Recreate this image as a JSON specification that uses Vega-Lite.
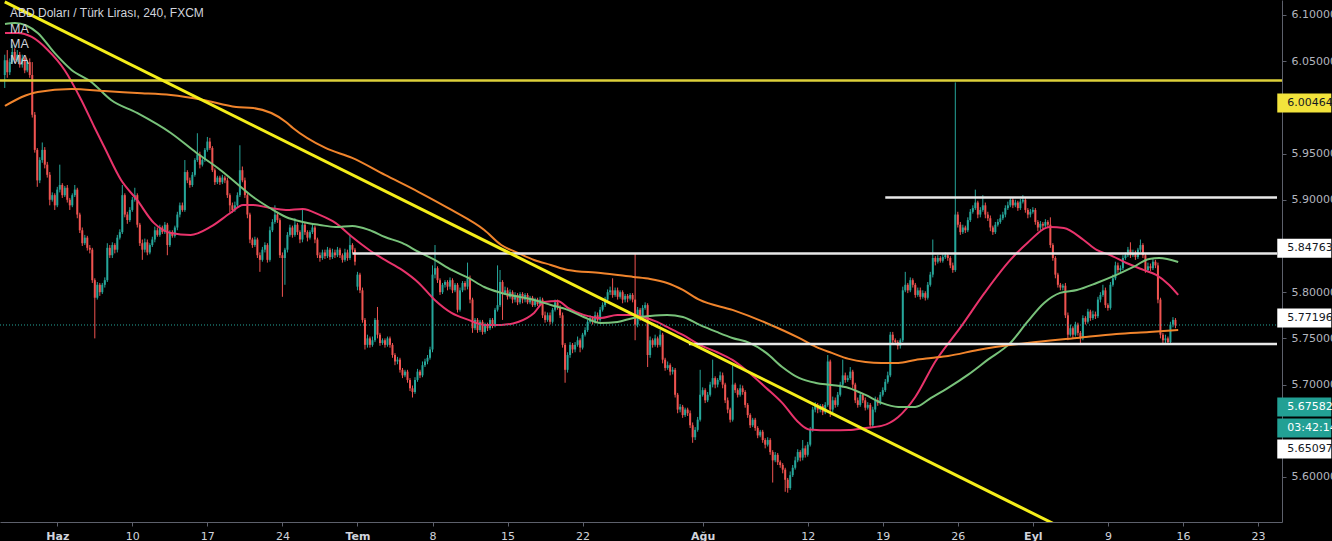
{
"$schema":"https://vega.github.io/schema/vega-lite/v6.json",
"width":1282,"height":522,
"autosize":{"type":"none"},
"padding":{"left":0,"top":0,"right":50,"bottom":19},
"background":"#000000",
"config":{"view":{"stroke":null,"fill":"#000000"},
 "axis":{"grid":false,"domainColor":"#5d606b","tickColor":"#5d606b","tickSize":4,"labelFont":"DejaVu Sans","labelFontSize":11,"labelFlush":false,"labelOverlap":false}},
"datasets":{
"candles":[
{"t":-21,"o":6.035,"h":6.057,"l":6.021,"c":6.051},
{"t":-20,"o":6.051,"h":6.062,"l":6.032,"c":6.038},
{"t":-19,"o":6.038,"h":6.053,"l":6.035,"c":6.049},
{"t":-18,"o":6.049,"h":6.068,"l":6.047,"c":6.060},
{"t":-17,"o":6.060,"h":6.064,"l":6.048,"c":6.051},
{"t":-16,"o":6.051,"h":6.062,"l":6.049,"c":6.057},
{"t":-15,"o":6.057,"h":6.060,"l":6.043,"c":6.046},
{"t":-14,"o":6.046,"h":6.057,"l":6.043,"c":6.053},
{"t":-13,"o":6.053,"h":6.056,"l":6.037,"c":6.040},
{"t":-12,"o":6.040,"h":6.051,"l":6.038,"c":6.049},
{"t":-11,"o":6.049,"h":6.053,"l":6.032,"c":6.035},
{"t":-10,"o":6.035,"h":6.049,"l":5.989,"c":5.992},
{"t":-9,"o":5.992,"h":5.995,"l":5.951,"c":5.954},
{"t":-8,"o":5.954,"h":5.956,"l":5.914,"c":5.921},
{"t":-7,"o":5.921,"h":5.946,"l":5.918,"c":5.943},
{"t":-6,"o":5.943,"h":5.962,"l":5.940,"c":5.954},
{"t":-5,"o":5.954,"h":5.957,"l":5.934,"c":5.938},
{"t":-4,"o":5.938,"h":5.941,"l":5.924,"c":5.927},
{"t":-3,"o":5.927,"h":5.930,"l":5.894,"c":5.900},
{"t":-2,"o":5.900,"h":5.908,"l":5.898,"c":5.905},
{"t":-1,"o":5.905,"h":5.907,"l":5.889,"c":5.894},
{"t":0,"o":5.894,"h":5.914,"l":5.892,"c":5.911},
{"t":1,"o":5.911,"h":5.938,"l":5.908,"c":5.916},
{"t":2,"o":5.916,"h":5.918,"l":5.902,"c":5.905},
{"t":3,"o":5.905,"h":5.915,"l":5.903,"c":5.913},
{"t":4,"o":5.913,"h":5.916,"l":5.897,"c":5.900},
{"t":5,"o":5.900,"h":5.902,"l":5.889,"c":5.894},
{"t":6,"o":5.894,"h":5.907,"l":5.892,"c":5.905},
{"t":7,"o":5.905,"h":5.916,"l":5.903,"c":5.911},
{"t":8,"o":5.911,"h":5.913,"l":5.880,"c":5.884},
{"t":9,"o":5.884,"h":5.886,"l":5.864,"c":5.867},
{"t":10,"o":5.867,"h":5.870,"l":5.850,"c":5.853},
{"t":11,"o":5.853,"h":5.862,"l":5.851,"c":5.859},
{"t":12,"o":5.859,"h":5.861,"l":5.845,"c":5.848},
{"t":13,"o":5.848,"h":5.851,"l":5.842,"c":5.846},
{"t":14,"o":5.846,"h":5.848,"l":5.810,"c":5.813},
{"t":15,"o":5.813,"h":5.815,"l":5.750,"c":5.794},
{"t":16,"o":5.794,"h":5.811,"l":5.792,"c":5.808},
{"t":17,"o":5.808,"h":5.810,"l":5.796,"c":5.800},
{"t":18,"o":5.800,"h":5.810,"l":5.798,"c":5.808},
{"t":19,"o":5.808,"h":5.816,"l":5.805,"c":5.813},
{"t":20,"o":5.813,"h":5.853,"l":5.811,"c":5.848},
{"t":21,"o":5.848,"h":5.851,"l":5.837,"c":5.840},
{"t":22,"o":5.840,"h":5.854,"l":5.837,"c":5.851},
{"t":23,"o":5.851,"h":5.853,"l":5.842,"c":5.846},
{"t":24,"o":5.846,"h":5.862,"l":5.843,"c":5.859},
{"t":25,"o":5.859,"h":5.868,"l":5.857,"c":5.865},
{"t":26,"o":5.865,"h":5.916,"l":5.863,"c":5.905},
{"t":27,"o":5.905,"h":5.907,"l":5.881,"c":5.884},
{"t":28,"o":5.884,"h":5.887,"l":5.874,"c":5.878},
{"t":29,"o":5.878,"h":5.892,"l":5.876,"c":5.889},
{"t":30,"o":5.889,"h":5.903,"l":5.887,"c":5.900},
{"t":31,"o":5.900,"h":5.913,"l":5.898,"c":5.905},
{"t":32,"o":5.905,"h":5.907,"l":5.870,"c":5.873},
{"t":33,"o":5.873,"h":5.875,"l":5.850,"c":5.853},
{"t":34,"o":5.853,"h":5.857,"l":5.835,"c":5.846},
{"t":35,"o":5.846,"h":5.858,"l":5.843,"c":5.854},
{"t":36,"o":5.854,"h":5.857,"l":5.840,"c":5.843},
{"t":37,"o":5.843,"h":5.853,"l":5.841,"c":5.851},
{"t":38,"o":5.851,"h":5.860,"l":5.849,"c":5.857},
{"t":39,"o":5.857,"h":5.871,"l":5.854,"c":5.867},
{"t":40,"o":5.867,"h":5.870,"l":5.860,"c":5.862},
{"t":41,"o":5.862,"h":5.873,"l":5.860,"c":5.870},
{"t":42,"o":5.870,"h":5.872,"l":5.863,"c":5.865},
{"t":43,"o":5.865,"h":5.876,"l":5.863,"c":5.873},
{"t":44,"o":5.873,"h":5.875,"l":5.840,"c":5.851},
{"t":45,"o":5.851,"h":5.867,"l":5.849,"c":5.865},
{"t":46,"o":5.865,"h":5.867,"l":5.859,"c":5.861},
{"t":47,"o":5.861,"h":5.872,"l":5.859,"c":5.870},
{"t":48,"o":5.870,"h":5.887,"l":5.867,"c":5.884},
{"t":49,"o":5.884,"h":5.897,"l":5.881,"c":5.894},
{"t":50,"o":5.894,"h":5.897,"l":5.887,"c":5.889},
{"t":51,"o":5.889,"h":5.943,"l":5.887,"c":5.930},
{"t":52,"o":5.930,"h":5.932,"l":5.918,"c":5.921},
{"t":53,"o":5.921,"h":5.924,"l":5.913,"c":5.916},
{"t":54,"o":5.916,"h":5.930,"l":5.914,"c":5.927},
{"t":55,"o":5.927,"h":5.945,"l":5.925,"c":5.943},
{"t":56,"o":5.943,"h":5.972,"l":5.941,"c":5.949},
{"t":57,"o":5.949,"h":5.952,"l":5.934,"c":5.938},
{"t":58,"o":5.938,"h":5.945,"l":5.936,"c":5.943},
{"t":59,"o":5.943,"h":5.956,"l":5.941,"c":5.954},
{"t":60,"o":5.954,"h":5.968,"l":5.952,"c":5.963},
{"t":61,"o":5.963,"h":5.967,"l":5.954,"c":5.956},
{"t":62,"o":5.956,"h":5.958,"l":5.930,"c":5.932},
{"t":63,"o":5.932,"h":5.934,"l":5.916,"c":5.919},
{"t":64,"o":5.919,"h":5.926,"l":5.917,"c":5.924},
{"t":65,"o":5.924,"h":5.926,"l":5.916,"c":5.919},
{"t":66,"o":5.919,"h":5.927,"l":5.917,"c":5.924},
{"t":67,"o":5.924,"h":5.926,"l":5.918,"c":5.921},
{"t":68,"o":5.921,"h":5.924,"l":5.902,"c":5.905},
{"t":69,"o":5.905,"h":5.907,"l":5.886,"c":5.894},
{"t":70,"o":5.894,"h":5.897,"l":5.886,"c":5.889},
{"t":71,"o":5.889,"h":5.898,"l":5.887,"c":5.894},
{"t":72,"o":5.894,"h":5.908,"l":5.892,"c":5.905},
{"t":73,"o":5.905,"h":5.959,"l":5.903,"c":5.932},
{"t":74,"o":5.932,"h":5.936,"l":5.919,"c":5.921},
{"t":75,"o":5.921,"h":5.924,"l":5.902,"c":5.905},
{"t":76,"o":5.905,"h":5.907,"l":5.880,"c":5.884},
{"t":77,"o":5.884,"h":5.886,"l":5.853,"c":5.857},
{"t":78,"o":5.857,"h":5.859,"l":5.848,"c":5.851},
{"t":79,"o":5.851,"h":5.860,"l":5.849,"c":5.857},
{"t":80,"o":5.857,"h":5.859,"l":5.837,"c":5.840},
{"t":81,"o":5.840,"h":5.843,"l":5.822,"c":5.835},
{"t":82,"o":5.835,"h":5.849,"l":5.833,"c":5.846},
{"t":83,"o":5.846,"h":5.854,"l":5.843,"c":5.851},
{"t":84,"o":5.851,"h":5.853,"l":5.832,"c":5.835},
{"t":85,"o":5.835,"h":5.871,"l":5.833,"c":5.867},
{"t":86,"o":5.867,"h":5.879,"l":5.865,"c":5.876},
{"t":87,"o":5.876,"h":5.894,"l":5.874,"c":5.884},
{"t":88,"o":5.884,"h":5.887,"l":5.875,"c":5.878},
{"t":89,"o":5.878,"h":5.880,"l":5.837,"c":5.840},
{"t":90,"o":5.840,"h":5.843,"l":5.795,"c":5.837},
{"t":91,"o":5.837,"h":5.848,"l":5.808,"c":5.846},
{"t":92,"o":5.846,"h":5.865,"l":5.843,"c":5.862},
{"t":93,"o":5.862,"h":5.873,"l":5.860,"c":5.870},
{"t":94,"o":5.870,"h":5.872,"l":5.859,"c":5.862},
{"t":95,"o":5.862,"h":5.880,"l":5.860,"c":5.873},
{"t":96,"o":5.873,"h":5.875,"l":5.862,"c":5.865},
{"t":97,"o":5.865,"h":5.867,"l":5.853,"c":5.857},
{"t":98,"o":5.857,"h":5.889,"l":5.854,"c":5.873},
{"t":99,"o":5.873,"h":5.875,"l":5.862,"c":5.865},
{"t":100,"o":5.865,"h":5.867,"l":5.855,"c":5.859},
{"t":101,"o":5.859,"h":5.867,"l":5.857,"c":5.865},
{"t":102,"o":5.865,"h":5.873,"l":5.863,"c":5.870},
{"t":103,"o":5.870,"h":5.872,"l":5.853,"c":5.857},
{"t":104,"o":5.857,"h":5.859,"l":5.837,"c":5.840},
{"t":105,"o":5.840,"h":5.843,"l":5.833,"c":5.837},
{"t":106,"o":5.837,"h":5.846,"l":5.835,"c":5.843},
{"t":107,"o":5.843,"h":5.846,"l":5.836,"c":5.839},
{"t":108,"o":5.839,"h":5.849,"l":5.837,"c":5.846},
{"t":109,"o":5.846,"h":5.848,"l":5.835,"c":5.838},
{"t":110,"o":5.838,"h":5.847,"l":5.836,"c":5.843},
{"t":111,"o":5.843,"h":5.846,"l":5.837,"c":5.840},
{"t":112,"o":5.840,"h":5.849,"l":5.838,"c":5.846},
{"t":113,"o":5.846,"h":5.848,"l":5.837,"c":5.840},
{"t":114,"o":5.840,"h":5.842,"l":5.832,"c":5.835},
{"t":115,"o":5.835,"h":5.847,"l":5.833,"c":5.843},
{"t":116,"o":5.843,"h":5.846,"l":5.834,"c":5.837},
{"t":117,"o":5.837,"h":5.862,"l":5.835,"c":5.851},
{"t":118,"o":5.851,"h":5.853,"l":5.842,"c":5.846},
{"t":119,"o":5.846,"h":5.848,"l":5.829,"c":5.833},
{"t":120,"o":5.806,"h":5.822,"l":5.802,"c":5.819},
{"t":121,"o":5.819,"h":5.821,"l":5.799,"c":5.802},
{"t":122,"o":5.802,"h":5.805,"l":5.767,"c":5.770},
{"t":123,"o":5.770,"h":5.772,"l":5.738,"c":5.743},
{"t":124,"o":5.743,"h":5.754,"l":5.740,"c":5.750},
{"t":125,"o":5.750,"h":5.752,"l":5.740,"c":5.743},
{"t":126,"o":5.743,"h":5.752,"l":5.741,"c":5.748},
{"t":127,"o":5.748,"h":5.772,"l":5.746,"c":5.770},
{"t":128,"o":5.770,"h":5.784,"l":5.750,"c":5.754},
{"t":129,"o":5.754,"h":5.756,"l":5.742,"c":5.745},
{"t":130,"o":5.745,"h":5.750,"l":5.743,"c":5.748},
{"t":131,"o":5.748,"h":5.750,"l":5.740,"c":5.743},
{"t":132,"o":5.743,"h":5.752,"l":5.741,"c":5.750},
{"t":133,"o":5.750,"h":5.752,"l":5.740,"c":5.743},
{"t":134,"o":5.743,"h":5.745,"l":5.729,"c":5.732},
{"t":135,"o":5.732,"h":5.734,"l":5.721,"c":5.725},
{"t":136,"o":5.725,"h":5.730,"l":5.722,"c":5.727},
{"t":137,"o":5.727,"h":5.729,"l":5.713,"c":5.716},
{"t":138,"o":5.716,"h":5.718,"l":5.707,"c":5.710},
{"t":139,"o":5.710,"h":5.716,"l":5.708,"c":5.714},
{"t":140,"o":5.714,"h":5.716,"l":5.702,"c":5.705},
{"t":141,"o":5.705,"h":5.707,"l":5.693,"c":5.696},
{"t":142,"o":5.696,"h":5.699,"l":5.686,"c":5.692},
{"t":143,"o":5.692,"h":5.708,"l":5.690,"c":5.705},
{"t":144,"o":5.705,"h":5.717,"l":5.703,"c":5.714},
{"t":145,"o":5.714,"h":5.716,"l":5.707,"c":5.710},
{"t":146,"o":5.710,"h":5.725,"l":5.708,"c":5.721},
{"t":147,"o":5.721,"h":5.728,"l":5.719,"c":5.725},
{"t":148,"o":5.725,"h":5.732,"l":5.722,"c":5.729},
{"t":149,"o":5.729,"h":5.741,"l":5.727,"c":5.738},
{"t":150,"o":5.738,"h":5.829,"l":5.735,"c":5.819},
{"t":151,"o":5.819,"h":5.851,"l":5.815,"c":5.826},
{"t":152,"o":5.826,"h":5.828,"l":5.810,"c":5.813},
{"t":153,"o":5.813,"h":5.815,"l":5.797,"c":5.800},
{"t":154,"o":5.800,"h":5.810,"l":5.798,"c":5.808},
{"t":155,"o":5.808,"h":5.813,"l":5.805,"c":5.811},
{"t":156,"o":5.811,"h":5.813,"l":5.802,"c":5.806},
{"t":157,"o":5.806,"h":5.816,"l":5.803,"c":5.813},
{"t":158,"o":5.813,"h":5.815,"l":5.799,"c":5.802},
{"t":159,"o":5.802,"h":5.810,"l":5.800,"c":5.808},
{"t":160,"o":5.808,"h":5.810,"l":5.778,"c":5.781},
{"t":161,"o":5.781,"h":5.805,"l":5.779,"c":5.802},
{"t":162,"o":5.802,"h":5.812,"l":5.800,"c":5.810},
{"t":163,"o":5.810,"h":5.812,"l":5.802,"c":5.806},
{"t":164,"o":5.806,"h":5.832,"l":5.803,"c":5.815},
{"t":165,"o":5.815,"h":5.818,"l":5.788,"c":5.792},
{"t":166,"o":5.792,"h":5.794,"l":5.756,"c":5.761},
{"t":167,"o":5.761,"h":5.772,"l":5.759,"c":5.770},
{"t":168,"o":5.770,"h":5.772,"l":5.756,"c":5.759},
{"t":169,"o":5.759,"h":5.770,"l":5.757,"c":5.768},
{"t":170,"o":5.768,"h":5.770,"l":5.754,"c":5.757},
{"t":171,"o":5.757,"h":5.767,"l":5.755,"c":5.765},
{"t":172,"o":5.765,"h":5.767,"l":5.758,"c":5.761},
{"t":173,"o":5.761,"h":5.772,"l":5.759,"c":5.770},
{"t":174,"o":5.770,"h":5.772,"l":5.761,"c":5.765},
{"t":175,"o":5.765,"h":5.783,"l":5.762,"c":5.781},
{"t":176,"o":5.781,"h":5.829,"l":5.779,"c":5.786},
{"t":177,"o":5.786,"h":5.824,"l":5.784,"c":5.811},
{"t":178,"o":5.811,"h":5.813,"l":5.770,"c":5.799},
{"t":179,"o":5.799,"h":5.806,"l":5.797,"c":5.802},
{"t":180,"o":5.802,"h":5.805,"l":5.792,"c":5.795},
{"t":181,"o":5.795,"h":5.803,"l":5.793,"c":5.800},
{"t":182,"o":5.800,"h":5.802,"l":5.788,"c":5.792},
{"t":183,"o":5.792,"h":5.800,"l":5.789,"c":5.797},
{"t":184,"o":5.797,"h":5.799,"l":5.786,"c":5.789},
{"t":185,"o":5.789,"h":5.800,"l":5.787,"c":5.798},
{"t":186,"o":5.798,"h":5.800,"l":5.788,"c":5.792},
{"t":187,"o":5.792,"h":5.799,"l":5.789,"c":5.797},
{"t":188,"o":5.797,"h":5.799,"l":5.787,"c":5.789},
{"t":189,"o":5.789,"h":5.796,"l":5.787,"c":5.794},
{"t":190,"o":5.794,"h":5.796,"l":5.784,"c":5.786},
{"t":191,"o":5.786,"h":5.794,"l":5.784,"c":5.792},
{"t":192,"o":5.792,"h":5.794,"l":5.785,"c":5.787},
{"t":193,"o":5.787,"h":5.795,"l":5.785,"c":5.792},
{"t":194,"o":5.792,"h":5.794,"l":5.772,"c":5.775},
{"t":195,"o":5.775,"h":5.779,"l":5.767,"c":5.770},
{"t":196,"o":5.770,"h":5.778,"l":5.768,"c":5.775},
{"t":197,"o":5.775,"h":5.778,"l":5.765,"c":5.768},
{"t":198,"o":5.768,"h":5.783,"l":5.766,"c":5.781},
{"t":199,"o":5.781,"h":5.792,"l":5.779,"c":5.789},
{"t":200,"o":5.789,"h":5.792,"l":5.781,"c":5.784},
{"t":201,"o":5.784,"h":5.786,"l":5.772,"c":5.775},
{"t":202,"o":5.775,"h":5.778,"l":5.740,"c":5.743},
{"t":203,"o":5.743,"h":5.745,"l":5.702,"c":5.716},
{"t":204,"o":5.716,"h":5.735,"l":5.713,"c":5.732},
{"t":205,"o":5.732,"h":5.746,"l":5.729,"c":5.743},
{"t":206,"o":5.743,"h":5.745,"l":5.734,"c":5.738},
{"t":207,"o":5.738,"h":5.746,"l":5.735,"c":5.743},
{"t":208,"o":5.743,"h":5.752,"l":5.741,"c":5.748},
{"t":209,"o":5.748,"h":5.750,"l":5.735,"c":5.740},
{"t":210,"o":5.740,"h":5.756,"l":5.738,"c":5.754},
{"t":211,"o":5.754,"h":5.762,"l":5.752,"c":5.759},
{"t":212,"o":5.759,"h":5.770,"l":5.757,"c":5.768},
{"t":213,"o":5.768,"h":5.775,"l":5.766,"c":5.772},
{"t":214,"o":5.772,"h":5.774,"l":5.765,"c":5.768},
{"t":215,"o":5.768,"h":5.779,"l":5.766,"c":5.775},
{"t":216,"o":5.775,"h":5.778,"l":5.767,"c":5.770},
{"t":217,"o":5.770,"h":5.784,"l":5.768,"c":5.781},
{"t":218,"o":5.781,"h":5.789,"l":5.779,"c":5.786},
{"t":219,"o":5.786,"h":5.795,"l":5.784,"c":5.792},
{"t":220,"o":5.792,"h":5.803,"l":5.789,"c":5.800},
{"t":221,"o":5.800,"h":5.806,"l":5.797,"c":5.802},
{"t":222,"o":5.802,"h":5.815,"l":5.794,"c":5.797},
{"t":223,"o":5.797,"h":5.805,"l":5.795,"c":5.802},
{"t":224,"o":5.802,"h":5.805,"l":5.792,"c":5.795},
{"t":225,"o":5.795,"h":5.802,"l":5.793,"c":5.800},
{"t":226,"o":5.800,"h":5.802,"l":5.788,"c":5.792},
{"t":227,"o":5.792,"h":5.798,"l":5.789,"c":5.796},
{"t":228,"o":5.796,"h":5.798,"l":5.789,"c":5.793},
{"t":229,"o":5.793,"h":5.799,"l":5.791,"c":5.797},
{"t":230,"o":5.797,"h":5.799,"l":5.789,"c":5.792},
{"t":231,"o":5.792,"h":5.842,"l":5.748,"c":5.765},
{"t":232,"o":5.765,"h":5.784,"l":5.762,"c":5.781},
{"t":233,"o":5.781,"h":5.783,"l":5.769,"c":5.772},
{"t":234,"o":5.772,"h":5.786,"l":5.770,"c":5.783},
{"t":235,"o":5.783,"h":5.789,"l":5.781,"c":5.786},
{"t":236,"o":5.786,"h":5.788,"l":5.719,"c":5.732},
{"t":237,"o":5.732,"h":5.752,"l":5.729,"c":5.748},
{"t":238,"o":5.748,"h":5.750,"l":5.740,"c":5.743},
{"t":239,"o":5.743,"h":5.754,"l":5.741,"c":5.750},
{"t":240,"o":5.750,"h":5.752,"l":5.740,"c":5.743},
{"t":241,"o":5.743,"h":5.759,"l":5.741,"c":5.754},
{"t":242,"o":5.754,"h":5.756,"l":5.723,"c":5.727},
{"t":243,"o":5.727,"h":5.729,"l":5.715,"c":5.718},
{"t":244,"o":5.718,"h":5.725,"l":5.716,"c":5.721},
{"t":245,"o":5.721,"h":5.723,"l":5.710,"c":5.714},
{"t":246,"o":5.714,"h":5.719,"l":5.711,"c":5.716},
{"t":247,"o":5.716,"h":5.718,"l":5.686,"c":5.689},
{"t":248,"o":5.689,"h":5.691,"l":5.669,"c":5.673},
{"t":249,"o":5.673,"h":5.679,"l":5.670,"c":5.676},
{"t":250,"o":5.676,"h":5.678,"l":5.664,"c":5.667},
{"t":251,"o":5.667,"h":5.675,"l":5.665,"c":5.673},
{"t":252,"o":5.673,"h":5.675,"l":5.666,"c":5.669},
{"t":253,"o":5.669,"h":5.672,"l":5.653,"c":5.656},
{"t":254,"o":5.656,"h":5.659,"l":5.637,"c":5.643},
{"t":255,"o":5.643,"h":5.654,"l":5.640,"c":5.651},
{"t":256,"o":5.651,"h":5.665,"l":5.649,"c":5.662},
{"t":257,"o":5.662,"h":5.716,"l":5.660,"c":5.689},
{"t":258,"o":5.689,"h":5.697,"l":5.687,"c":5.694},
{"t":259,"o":5.694,"h":5.696,"l":5.680,"c":5.683},
{"t":260,"o":5.683,"h":5.692,"l":5.681,"c":5.689},
{"t":261,"o":5.689,"h":5.703,"l":5.687,"c":5.700},
{"t":262,"o":5.700,"h":5.727,"l":5.697,"c":5.707},
{"t":263,"o":5.707,"h":5.709,"l":5.696,"c":5.700},
{"t":264,"o":5.700,"h":5.707,"l":5.697,"c":5.705},
{"t":265,"o":5.705,"h":5.714,"l":5.703,"c":5.710},
{"t":266,"o":5.710,"h":5.713,"l":5.696,"c":5.700},
{"t":267,"o":5.700,"h":5.702,"l":5.680,"c":5.683},
{"t":268,"o":5.683,"h":5.686,"l":5.669,"c":5.673},
{"t":269,"o":5.673,"h":5.675,"l":5.659,"c":5.662},
{"t":270,"o":5.662,"h":5.721,"l":5.660,"c":5.700},
{"t":271,"o":5.700,"h":5.702,"l":5.691,"c":5.694},
{"t":272,"o":5.694,"h":5.696,"l":5.686,"c":5.689},
{"t":273,"o":5.689,"h":5.700,"l":5.687,"c":5.696},
{"t":274,"o":5.696,"h":5.699,"l":5.689,"c":5.692},
{"t":275,"o":5.692,"h":5.694,"l":5.675,"c":5.678},
{"t":276,"o":5.678,"h":5.680,"l":5.664,"c":5.667},
{"t":277,"o":5.667,"h":5.669,"l":5.653,"c":5.656},
{"t":278,"o":5.656,"h":5.664,"l":5.654,"c":5.662},
{"t":279,"o":5.662,"h":5.664,"l":5.650,"c":5.653},
{"t":280,"o":5.653,"h":5.655,"l":5.642,"c":5.645},
{"t":281,"o":5.645,"h":5.651,"l":5.643,"c":5.649},
{"t":282,"o":5.649,"h":5.651,"l":5.637,"c":5.640},
{"t":283,"o":5.640,"h":5.642,"l":5.631,"c":5.635},
{"t":284,"o":5.635,"h":5.643,"l":5.633,"c":5.640},
{"t":285,"o":5.640,"h":5.642,"l":5.624,"c":5.627},
{"t":286,"o":5.627,"h":5.629,"l":5.594,"c":5.618},
{"t":287,"o":5.618,"h":5.627,"l":5.616,"c":5.624},
{"t":288,"o":5.624,"h":5.626,"l":5.613,"c":5.616},
{"t":289,"o":5.616,"h":5.618,"l":5.610,"c":5.613},
{"t":290,"o":5.613,"h":5.615,"l":5.604,"c":5.608},
{"t":291,"o":5.608,"h":5.610,"l":5.584,"c":5.597},
{"t":292,"o":5.597,"h":5.599,"l":5.583,"c":5.588},
{"t":293,"o":5.588,"h":5.606,"l":5.586,"c":5.602},
{"t":294,"o":5.602,"h":5.613,"l":5.600,"c":5.610},
{"t":295,"o":5.610,"h":5.622,"l":5.608,"c":5.618},
{"t":296,"o":5.618,"h":5.630,"l":5.616,"c":5.627},
{"t":297,"o":5.627,"h":5.629,"l":5.617,"c":5.621},
{"t":298,"o":5.621,"h":5.640,"l":5.618,"c":5.631},
{"t":299,"o":5.631,"h":5.634,"l":5.621,"c":5.624},
{"t":300,"o":5.624,"h":5.638,"l":5.622,"c":5.635},
{"t":301,"o":5.635,"h":5.654,"l":5.633,"c":5.651},
{"t":302,"o":5.651,"h":5.676,"l":5.649,"c":5.673},
{"t":303,"o":5.673,"h":5.681,"l":5.670,"c":5.678},
{"t":304,"o":5.678,"h":5.680,"l":5.669,"c":5.673},
{"t":305,"o":5.673,"h":5.679,"l":5.670,"c":5.677},
{"t":306,"o":5.677,"h":5.679,"l":5.667,"c":5.670},
{"t":307,"o":5.670,"h":5.681,"l":5.668,"c":5.678},
{"t":308,"o":5.678,"h":5.732,"l":5.676,"c":5.725},
{"t":309,"o":5.725,"h":5.727,"l":5.665,"c":5.673},
{"t":310,"o":5.673,"h":5.687,"l":5.670,"c":5.683},
{"t":311,"o":5.683,"h":5.686,"l":5.675,"c":5.678},
{"t":312,"o":5.678,"h":5.692,"l":5.676,"c":5.689},
{"t":313,"o":5.689,"h":5.703,"l":5.687,"c":5.700},
{"t":314,"o":5.700,"h":5.727,"l":5.697,"c":5.710},
{"t":315,"o":5.710,"h":5.713,"l":5.702,"c":5.705},
{"t":316,"o":5.705,"h":5.710,"l":5.703,"c":5.707},
{"t":317,"o":5.707,"h":5.719,"l":5.705,"c":5.714},
{"t":318,"o":5.714,"h":5.716,"l":5.696,"c":5.700},
{"t":319,"o":5.700,"h":5.702,"l":5.680,"c":5.683},
{"t":320,"o":5.683,"h":5.686,"l":5.675,"c":5.678},
{"t":321,"o":5.678,"h":5.692,"l":5.676,"c":5.689},
{"t":322,"o":5.689,"h":5.691,"l":5.680,"c":5.683},
{"t":323,"o":5.683,"h":5.686,"l":5.672,"c":5.675},
{"t":324,"o":5.675,"h":5.681,"l":5.673,"c":5.678},
{"t":325,"o":5.678,"h":5.680,"l":5.653,"c":5.656},
{"t":326,"o":5.656,"h":5.676,"l":5.654,"c":5.673},
{"t":327,"o":5.673,"h":5.687,"l":5.670,"c":5.683},
{"t":328,"o":5.683,"h":5.686,"l":5.677,"c":5.680},
{"t":329,"o":5.680,"h":5.692,"l":5.678,"c":5.689},
{"t":330,"o":5.689,"h":5.697,"l":5.687,"c":5.694},
{"t":331,"o":5.694,"h":5.706,"l":5.692,"c":5.703},
{"t":332,"o":5.703,"h":5.714,"l":5.701,"c":5.710},
{"t":333,"o":5.710,"h":5.757,"l":5.708,"c":5.754},
{"t":334,"o":5.754,"h":5.757,"l":5.745,"c":5.748},
{"t":335,"o":5.748,"h":5.750,"l":5.743,"c":5.746},
{"t":336,"o":5.746,"h":5.748,"l":5.738,"c":5.742},
{"t":337,"o":5.742,"h":5.750,"l":5.739,"c":5.748},
{"t":338,"o":5.748,"h":5.806,"l":5.746,"c":5.802},
{"t":339,"o":5.802,"h":5.822,"l":5.800,"c":5.808},
{"t":340,"o":5.808,"h":5.810,"l":5.799,"c":5.802},
{"t":341,"o":5.802,"h":5.816,"l":5.800,"c":5.813},
{"t":342,"o":5.813,"h":5.815,"l":5.805,"c":5.808},
{"t":343,"o":5.808,"h":5.810,"l":5.794,"c":5.797},
{"t":344,"o":5.797,"h":5.805,"l":5.795,"c":5.802},
{"t":345,"o":5.802,"h":5.805,"l":5.792,"c":5.795},
{"t":346,"o":5.795,"h":5.802,"l":5.793,"c":5.799},
{"t":347,"o":5.799,"h":5.801,"l":5.791,"c":5.794},
{"t":348,"o":5.794,"h":5.811,"l":5.792,"c":5.808},
{"t":349,"o":5.808,"h":5.822,"l":5.806,"c":5.819},
{"t":350,"o":5.819,"h":5.857,"l":5.816,"c":5.837},
{"t":351,"o":5.837,"h":5.839,"l":5.829,"c":5.833},
{"t":352,"o":5.833,"h":5.840,"l":5.831,"c":5.837},
{"t":353,"o":5.837,"h":5.839,"l":5.832,"c":5.834},
{"t":354,"o":5.834,"h":5.841,"l":5.832,"c":5.838},
{"t":355,"o":5.838,"h":5.843,"l":5.836,"c":5.840},
{"t":356,"o":5.840,"h":5.842,"l":5.834,"c":5.837},
{"t":357,"o":5.837,"h":5.839,"l":5.826,"c":5.829},
{"t":358,"o":5.829,"h":5.832,"l":5.821,"c":5.824},
{"t":359,"o":5.824,"h":6.027,"l":5.822,"c":5.884},
{"t":360,"o":5.884,"h":5.887,"l":5.870,"c":5.873},
{"t":361,"o":5.873,"h":5.876,"l":5.862,"c":5.865},
{"t":362,"o":5.865,"h":5.873,"l":5.863,"c":5.870},
{"t":363,"o":5.870,"h":5.872,"l":5.864,"c":5.867},
{"t":364,"o":5.867,"h":5.881,"l":5.865,"c":5.878},
{"t":365,"o":5.878,"h":5.890,"l":5.876,"c":5.887},
{"t":366,"o":5.887,"h":5.894,"l":5.885,"c":5.891},
{"t":367,"o":5.891,"h":5.911,"l":5.889,"c":5.897},
{"t":368,"o":5.897,"h":5.899,"l":5.880,"c":5.884},
{"t":369,"o":5.884,"h":5.892,"l":5.881,"c":5.889},
{"t":370,"o":5.889,"h":5.905,"l":5.887,"c":5.894},
{"t":371,"o":5.894,"h":5.897,"l":5.880,"c":5.884},
{"t":372,"o":5.884,"h":5.887,"l":5.877,"c":5.880},
{"t":373,"o":5.880,"h":5.883,"l":5.866,"c":5.870},
{"t":374,"o":5.870,"h":5.872,"l":5.862,"c":5.865},
{"t":375,"o":5.865,"h":5.876,"l":5.863,"c":5.873},
{"t":376,"o":5.873,"h":5.879,"l":5.871,"c":5.876},
{"t":377,"o":5.876,"h":5.884,"l":5.874,"c":5.880},
{"t":378,"o":5.880,"h":5.887,"l":5.878,"c":5.884},
{"t":379,"o":5.884,"h":5.894,"l":5.881,"c":5.891},
{"t":380,"o":5.891,"h":5.898,"l":5.889,"c":5.894},
{"t":381,"o":5.894,"h":5.903,"l":5.892,"c":5.900},
{"t":382,"o":5.900,"h":5.902,"l":5.891,"c":5.894},
{"t":383,"o":5.894,"h":5.900,"l":5.892,"c":5.897},
{"t":384,"o":5.897,"h":5.899,"l":5.888,"c":5.891},
{"t":385,"o":5.891,"h":5.901,"l":5.889,"c":5.898},
{"t":386,"o":5.898,"h":5.905,"l":5.896,"c":5.900},
{"t":387,"o":5.900,"h":5.902,"l":5.886,"c":5.889},
{"t":388,"o":5.889,"h":5.891,"l":5.880,"c":5.884},
{"t":389,"o":5.884,"h":5.890,"l":5.881,"c":5.887},
{"t":390,"o":5.887,"h":5.892,"l":5.885,"c":5.889},
{"t":391,"o":5.889,"h":5.891,"l":5.873,"c":5.876},
{"t":392,"o":5.876,"h":5.878,"l":5.866,"c":5.870},
{"t":393,"o":5.870,"h":5.877,"l":5.867,"c":5.874},
{"t":394,"o":5.874,"h":5.876,"l":5.868,"c":5.872},
{"t":395,"o":5.872,"h":5.879,"l":5.870,"c":5.876},
{"t":396,"o":5.876,"h":5.878,"l":5.870,"c":5.873},
{"t":397,"o":5.873,"h":5.881,"l":5.848,"c":5.851},
{"t":398,"o":5.851,"h":5.853,"l":5.834,"c":5.837},
{"t":399,"o":5.837,"h":5.839,"l":5.815,"c":5.819},
{"t":400,"o":5.819,"h":5.821,"l":5.805,"c":5.808},
{"t":401,"o":5.808,"h":5.810,"l":5.802,"c":5.805},
{"t":402,"o":5.805,"h":5.809,"l":5.802,"c":5.807},
{"t":403,"o":5.807,"h":5.810,"l":5.772,"c":5.775},
{"t":404,"o":5.775,"h":5.778,"l":5.748,"c":5.754},
{"t":405,"o":5.754,"h":5.765,"l":5.752,"c":5.761},
{"t":406,"o":5.761,"h":5.763,"l":5.750,"c":5.754},
{"t":407,"o":5.754,"h":5.768,"l":5.752,"c":5.765},
{"t":408,"o":5.765,"h":5.767,"l":5.753,"c":5.756},
{"t":409,"o":5.756,"h":5.758,"l":5.745,"c":5.750},
{"t":410,"o":5.750,"h":5.775,"l":5.748,"c":5.772},
{"t":411,"o":5.772,"h":5.774,"l":5.765,"c":5.768},
{"t":412,"o":5.768,"h":5.782,"l":5.766,"c":5.779},
{"t":413,"o":5.779,"h":5.781,"l":5.769,"c":5.772},
{"t":414,"o":5.772,"h":5.780,"l":5.770,"c":5.776},
{"t":415,"o":5.776,"h":5.779,"l":5.771,"c":5.774},
{"t":416,"o":5.774,"h":5.795,"l":5.772,"c":5.792},
{"t":417,"o":5.792,"h":5.800,"l":5.789,"c":5.797},
{"t":418,"o":5.797,"h":5.808,"l":5.795,"c":5.802},
{"t":419,"o":5.802,"h":5.805,"l":5.783,"c":5.786},
{"t":420,"o":5.786,"h":5.788,"l":5.780,"c":5.783},
{"t":421,"o":5.783,"h":5.811,"l":5.781,"c":5.808},
{"t":422,"o":5.808,"h":5.819,"l":5.806,"c":5.815},
{"t":423,"o":5.815,"h":5.833,"l":5.813,"c":5.829},
{"t":424,"o":5.829,"h":5.832,"l":5.821,"c":5.824},
{"t":425,"o":5.824,"h":5.829,"l":5.822,"c":5.826},
{"t":426,"o":5.826,"h":5.840,"l":5.824,"c":5.837},
{"t":427,"o":5.837,"h":5.843,"l":5.835,"c":5.840},
{"t":428,"o":5.840,"h":5.849,"l":5.838,"c":5.846},
{"t":429,"o":5.846,"h":5.854,"l":5.837,"c":5.840},
{"t":430,"o":5.840,"h":5.846,"l":5.838,"c":5.842},
{"t":431,"o":5.842,"h":5.845,"l":5.835,"c":5.838},
{"t":432,"o":5.838,"h":5.848,"l":5.836,"c":5.846},
{"t":433,"o":5.846,"h":5.857,"l":5.843,"c":5.851},
{"t":434,"o":5.851,"h":5.853,"l":5.837,"c":5.840},
{"t":435,"o":5.840,"h":5.842,"l":5.821,"c":5.824},
{"t":436,"o":5.824,"h":5.832,"l":5.822,"c":5.828},
{"t":437,"o":5.828,"h":5.831,"l":5.823,"c":5.826},
{"t":438,"o":5.826,"h":5.836,"l":5.824,"c":5.833},
{"t":439,"o":5.833,"h":5.835,"l":5.826,"c":5.829},
{"t":440,"o":5.829,"h":5.832,"l":5.788,"c":5.792},
{"t":441,"o":5.792,"h":5.794,"l":5.750,"c":5.754},
{"t":442,"o":5.754,"h":5.756,"l":5.743,"c":5.748},
{"t":443,"o":5.748,"h":5.754,"l":5.745,"c":5.750},
{"t":444,"o":5.750,"h":5.752,"l":5.743,"c":5.746},
{"t":445,"o":5.746,"h":5.768,"l":5.744,"c":5.765},
{"t":446,"o":5.765,"h":5.773,"l":5.762,"c":5.770},
{"t":447,"o":5.770,"h":5.772,"l":5.761,"c":5.764}
],
"ma":[
{"t":-20.9,"v":6.0805,"s":"p"},{"t":-15.8,"v":6.0805,"s":"p"},{"t":-10.2,"v":6.0762,"s":"p"},{"t":-3.8,"v":6.0621,"s":"p"},{"t":2.9,"v":6.0405,"s":"p"},{"t":9.6,"v":6.008,"s":"p"},{"t":14.8,"v":5.9788,"s":"p"},{"t":18.8,"v":5.9571,"s":"p"},{"t":25.5,"v":5.9214,"s":"p"},{"t":31.9,"v":5.8998,"s":"p"},{"t":38.6,"v":5.875,"s":"p"},{"t":45.4,"v":5.8641,"s":"p"},{"t":53.3,"v":5.8619,"s":"p"},{"t":61.2,"v":5.8706,"s":"p"},{"t":69.2,"v":5.8857,"s":"p"},{"t":74.3,"v":5.8944,"s":"p"},{"t":78.3,"v":5.8944,"s":"p"},{"t":85.0,"v":5.8911,"s":"p"},{"t":91.4,"v":5.889,"s":"p"},{"t":98.1,"v":5.8901,"s":"p"},{"t":104.9,"v":5.8836,"s":"p"},{"t":111.2,"v":5.875,"s":"p"},{"t":117.9,"v":5.8597,"s":"p"},{"t":124.7,"v":5.8457,"s":"p"},{"t":131.0,"v":5.8349,"s":"p"},{"t":137.8,"v":5.8241,"s":"p"},{"t":144.5,"v":5.81,"s":"p"},{"t":150.9,"v":5.7916,"s":"p"},{"t":157.6,"v":5.7776,"s":"p"},{"t":164.4,"v":5.77,"s":"p"},{"t":170.7,"v":5.7646,"s":"p"},{"t":177.5,"v":5.7646,"s":"p"},{"t":184.2,"v":5.7678,"s":"p"},{"t":190.6,"v":5.7776,"s":"p"},{"t":194.6,"v":5.7894,"s":"p"},{"t":200.1,"v":5.7905,"s":"p"},{"t":204.1,"v":5.783,"s":"p"},{"t":210.4,"v":5.7754,"s":"p"},{"t":217.2,"v":5.7721,"s":"p"},{"t":223.9,"v":5.7754,"s":"p"},{"t":230.3,"v":5.7754,"s":"p"},{"t":234.2,"v":5.7732,"s":"p"},{"t":239.8,"v":5.7678,"s":"p"},{"t":243.8,"v":5.7624,"s":"p"},{"t":250.1,"v":5.7537,"s":"p"},{"t":256.8,"v":5.7429,"s":"p"},{"t":263.6,"v":5.7353,"s":"p"},{"t":269.9,"v":5.7267,"s":"p"},{"t":276.7,"v":5.7126,"s":"p"},{"t":283.4,"v":5.6964,"s":"p"},{"t":289.8,"v":5.6802,"s":"p"},{"t":296.5,"v":5.6586,"s":"p"},{"t":300.5,"v":5.6515,"s":"p"},{"t":309.6,"v":5.6505,"s":"p"},{"t":316.4,"v":5.6509,"s":"p"},{"t":323.1,"v":5.6531,"s":"p"},{"t":329.5,"v":5.6553,"s":"p"},{"t":336.2,"v":5.665,"s":"p"},{"t":343.0,"v":5.6866,"s":"p"},{"t":350.9,"v":5.7245,"s":"p"},{"t":361.2,"v":5.7624,"s":"p"},{"t":370.7,"v":5.7992,"s":"p"},{"t":381.0,"v":5.8349,"s":"p"},{"t":387.8,"v":5.8533,"s":"p"},{"t":396.9,"v":5.8706,"s":"p"},{"t":402.4,"v":5.8695,"s":"p"},{"t":410.3,"v":5.8565,"s":"p"},{"t":415.5,"v":5.8457,"s":"p"},{"t":420.7,"v":5.8403,"s":"p"},{"t":427.4,"v":5.8316,"s":"p"},{"t":434.2,"v":5.8241,"s":"p"},{"t":439.3,"v":5.8187,"s":"p"},{"t":444.5,"v":5.8078,"s":"p"},{"t":448.1,"v":5.797,"s":"p"},
{"t":-20.9,"v":6.0902,"s":"g"},{"t":-16.9,"v":6.0913,"s":"g"},{"t":-7.8,"v":6.0805,"s":"g"},{"t":-1.1,"v":6.0589,"s":"g"},{"t":5.7,"v":6.0405,"s":"g"},{"t":13.6,"v":6.0275,"s":"g"},{"t":21.5,"v":6.008,"s":"g"},{"t":31.9,"v":5.994,"s":"g"},{"t":45.4,"v":5.9723,"s":"g"},{"t":55.7,"v":5.9507,"s":"g"},{"t":65.2,"v":5.9323,"s":"g"},{"t":71.5,"v":5.9182,"s":"g"},{"t":78.3,"v":5.903,"s":"g"},{"t":85.0,"v":5.8911,"s":"g"},{"t":91.4,"v":5.8814,"s":"g"},{"t":98.1,"v":5.876,"s":"g"},{"t":104.9,"v":5.8728,"s":"g"},{"t":111.2,"v":5.8706,"s":"g"},{"t":117.9,"v":5.8717,"s":"g"},{"t":124.7,"v":5.8673,"s":"g"},{"t":131.0,"v":5.8597,"s":"g"},{"t":137.8,"v":5.8533,"s":"g"},{"t":144.5,"v":5.8435,"s":"g"},{"t":150.9,"v":5.8349,"s":"g"},{"t":157.6,"v":5.8241,"s":"g"},{"t":164.4,"v":5.8154,"s":"g"},{"t":170.7,"v":5.8056,"s":"g"},{"t":177.5,"v":5.7992,"s":"g"},{"t":190.6,"v":5.7916,"s":"g"},{"t":197.3,"v":5.7862,"s":"g"},{"t":204.1,"v":5.7808,"s":"g"},{"t":210.4,"v":5.7732,"s":"g"},{"t":217.2,"v":5.7667,"s":"g"},{"t":223.9,"v":5.7678,"s":"g"},{"t":230.3,"v":5.7721,"s":"g"},{"t":237.0,"v":5.7743,"s":"g"},{"t":243.8,"v":5.7754,"s":"g"},{"t":250.1,"v":5.7732,"s":"g"},{"t":256.8,"v":5.7646,"s":"g"},{"t":263.6,"v":5.757,"s":"g"},{"t":269.9,"v":5.7505,"s":"g"},{"t":276.7,"v":5.7451,"s":"g"},{"t":283.4,"v":5.7343,"s":"g"},{"t":289.8,"v":5.7191,"s":"g"},{"t":296.5,"v":5.7072,"s":"g"},{"t":303.3,"v":5.7018,"s":"g"},{"t":309.6,"v":5.6996,"s":"g"},{"t":316.4,"v":5.6964,"s":"g"},{"t":323.1,"v":5.6888,"s":"g"},{"t":329.5,"v":5.6802,"s":"g"},{"t":336.2,"v":5.6758,"s":"g"},{"t":343.0,"v":5.6758,"s":"g"},{"t":349.3,"v":5.6856,"s":"g"},{"t":356.1,"v":5.6964,"s":"g"},{"t":364.0,"v":5.7105,"s":"g"},{"t":371.9,"v":5.7267,"s":"g"},{"t":381.0,"v":5.7451,"s":"g"},{"t":387.8,"v":5.7678,"s":"g"},{"t":394.5,"v":5.7883,"s":"g"},{"t":400.9,"v":5.7992,"s":"g"},{"t":407.6,"v":5.8024,"s":"g"},{"t":415.5,"v":5.81,"s":"g"},{"t":423.4,"v":5.8187,"s":"g"},{"t":430.2,"v":5.8273,"s":"g"},{"t":436.5,"v":5.836,"s":"g"},{"t":440.5,"v":5.837,"s":"g"},{"t":448.1,"v":5.8327,"s":"g"},
{"t":-20.9,"v":6.0015,"s":"o"},{"t":-14.2,"v":6.0112,"s":"o"},{"t":-7.8,"v":6.0167,"s":"o"},{"t":5.7,"v":6.0199,"s":"o"},{"t":18.8,"v":6.0177,"s":"o"},{"t":31.9,"v":6.0156,"s":"o"},{"t":45.4,"v":6.0134,"s":"o"},{"t":58.4,"v":6.008,"s":"o"},{"t":71.5,"v":6.0004,"s":"o"},{"t":78.3,"v":5.9993,"s":"o"},{"t":91.4,"v":5.9842,"s":"o"},{"t":94.2,"v":5.9777,"s":"o"},{"t":107.2,"v":5.9561,"s":"o"},{"t":117.9,"v":5.9453,"s":"o"},{"t":131.0,"v":5.9269,"s":"o"},{"t":144.5,"v":5.9084,"s":"o"},{"t":157.6,"v":5.889,"s":"o"},{"t":170.7,"v":5.8673,"s":"o"},{"t":177.5,"v":5.8511,"s":"o"},{"t":184.2,"v":5.8424,"s":"o"},{"t":190.6,"v":5.8349,"s":"o"},{"t":197.3,"v":5.8295,"s":"o"},{"t":204.1,"v":5.8241,"s":"o"},{"t":217.2,"v":5.8208,"s":"o"},{"t":230.3,"v":5.8165,"s":"o"},{"t":237.0,"v":5.8143,"s":"o"},{"t":243.8,"v":5.81,"s":"o"},{"t":250.1,"v":5.8024,"s":"o"},{"t":256.8,"v":5.7916,"s":"o"},{"t":269.9,"v":5.7808,"s":"o"},{"t":283.4,"v":5.7667,"s":"o"},{"t":296.5,"v":5.7505,"s":"o"},{"t":303.3,"v":5.7408,"s":"o"},{"t":309.6,"v":5.7343,"s":"o"},{"t":316.4,"v":5.7278,"s":"o"},{"t":323.1,"v":5.7245,"s":"o"},{"t":329.5,"v":5.7234,"s":"o"},{"t":336.2,"v":5.7234,"s":"o"},{"t":343.0,"v":5.7267,"s":"o"},{"t":349.3,"v":5.7288,"s":"o"},{"t":356.1,"v":5.731,"s":"o"},{"t":368.0,"v":5.7375,"s":"o"},{"t":387.8,"v":5.7451,"s":"o"},{"t":407.6,"v":5.7505,"s":"o"},{"t":423.4,"v":5.7548,"s":"o"},{"t":436.5,"v":5.757,"s":"o"},{"t":448.1,"v":5.7591,"s":"o"}
],
"hlines":[
{"t0":331,"t1":487.6,"p":5.9025},
{"t0":118,"t1":487.6,"p":5.8419},
{"t0":252.5,"t1":487.6,"p":5.744}
],
"trend":[{"t":-21,"p":6.1141},{"t":404,"p":5.5418}],
"plabels":[
{"label":"6.00464","p":6.0046,"kind":"y"},
{"label":"5.84763","p":5.8476,"kind":"w"},
{"label":"5.77196","p":5.772,"kind":"w"},
{"label":"5.67582","p":5.6758,"kind":"g"},
{"label":"03:42:14","p":5.6531,"kind":"g"},
{"label":"5.65097","p":5.6304,"kind":"w"}
],
"one":[{}]
},
"layer":[
{"data":{"name":"candles"},
 "mark":{"type":"rule","strokeWidth":1},
 "encoding":{
  "x":{"field":"t","type":"quantitative","scale":{"domain":[-20.9,487.6],"nice":false,"zero":false},
   "axis":{"orient":"bottom","title":null,"values":[0,30,60,90,120,150,180,210,258,300,330,360,390,420,450,480],
    "labelExpr":"['Haz','10','17','24','Tem','8','15','22','Ağu','12','19','26','Eyl','9','16','23'][indexof([0,30,60,90,120,150,180,210,258,300,330,360,390,420,450,480], datum.value)]",
    "labelFontWeight":{"condition":{"test":"datum.value==0||datum.value==120||datum.value==258||datum.value==390","value":"bold"},"value":"normal"},
    "labelColor":"#d1d4dc","labelPadding":4}},
  "y":{"field":"l","type":"quantitative","scale":{"domain":[5.5513,6.1162],"nice":false,"zero":false},
   "axis":{"orient":"right","title":null,"values":[5.6,5.7,5.75,5.8,5.9,5.95,6.05,6.1],"format":".5f",
    "labelColor":"#b2b5be","labelPadding":5}},
  "y2":{"field":"h"},
  "color":{"condition":{"test":"datum.c >= datum.o","value":"#26a69a"},"value":"#ef5350"}
 }},
{"data":{"name":"candles"},
 "mark":{"type":"bar","width":2},
 "encoding":{
  "x":{"field":"t","type":"quantitative","axis":{"orient":"bottom","title":null}},
  "y":{"field":"o","type":"quantitative","axis":{"orient":"right","title":null}},
  "y2":{"field":"c"},
  "color":{"condition":{"test":"datum.c >= datum.o","value":"#26a69a"},"value":"#ef5350"}
 }},
{"data":{"name":"ma"},
 "mark":{"type":"line","strokeWidth":2,"interpolate":"monotone"},
 "encoding":{
  "x":{"field":"t","type":"quantitative","axis":{"orient":"bottom","title":null}},
  "y":{"field":"v","type":"quantitative","axis":{"orient":"right","title":null}},
  "color":{"field":"s","type":"nominal","scale":{"domain":["p","g","o"],"range":["#e8336b","#78c27a","#f0842c"]},"legend":null}
 }},
{"data":{"name":"one"},
 "mark":{"type":"rule","color":"#26a69a","strokeWidth":1,"strokeDash":[1,2]},
 "encoding":{"y":{"datum":5.7645,"type":"quantitative","axis":{"orient":"right","title":null}}}},
{"data":{"name":"one"},
 "mark":{"type":"rule","color":"#ddd03a","strokeWidth":2.5},
 "encoding":{"y":{"datum":6.0291,"type":"quantitative","axis":{"orient":"right","title":null}}}},
{"data":{"name":"hlines"},
 "mark":{"type":"rule","color":"#e8e8e8","strokeWidth":2.5},
 "encoding":{
  "x":{"field":"t0","type":"quantitative","axis":{"orient":"bottom","title":null}},
  "x2":{"field":"t1"},
  "y":{"field":"p","type":"quantitative","axis":{"orient":"right","title":null}}
 }},
{"data":{"name":"trend"},
 "mark":{"type":"line","color":"#f5ee1a","strokeWidth":3,"clip":true},
 "encoding":{
  "x":{"field":"t","type":"quantitative","axis":{"orient":"bottom","title":null}},
  "y":{"field":"p","type":"quantitative","axis":{"orient":"right","title":null}}
 }},
{"data":{"name":"one"},
 "mark":{"type":"text","align":"left","baseline":"middle","font":"Liberation Sans","fontSize":12,"color":"#d1d4dc"},
 "encoding":{
  "x":{"datum":-18.9,"type":"quantitative","axis":{"orient":"bottom","title":null}},
  "y":{"datum":6.1021,"type":"quantitative","axis":{"orient":"right","title":null}},
  "text":{"value":"ABD Doları / Türk Lirası, 240, FXCM"}
 }},
{"data":{"name":"one"},
 "mark":{"type":"text","align":"left","baseline":"top","font":"Liberation Sans","fontSize":12.5,"lineHeight":15.5,"color":"#d1d4dc"},
 "encoding":{
  "x":{"datum":-18.9,"type":"quantitative","axis":{"orient":"bottom","title":null}},
  "y":{"datum":6.0918,"type":"quantitative","axis":{"orient":"right","title":null}},
  "text":{"value":["MA","MA","MA"]}
 }},
{"data":{"name":"plabels"},
 "mark":{"type":"tick","orient":"horizontal","thickness":19,"size":54,"opacity":1},
 "encoding":{
  "x":{"datum":498.5,"type":"quantitative","axis":{"orient":"bottom","title":null}},
  "y":{"field":"p","type":"quantitative","axis":{"orient":"right","title":null}},
  "color":{"condition":[{"test":"datum.kind == 'y'","value":"#f2e33c"},{"test":"datum.kind == 'g'","value":"#22a094"}],"value":"#ffffff"}
 }},
{"data":{"name":"plabels"},
 "mark":{"type":"text","align":"left","baseline":"middle","font":"DejaVu Sans","fontSize":11},
 "encoding":{
  "x":{"datum":491.7,"type":"quantitative","axis":{"orient":"bottom","title":null}},
  "y":{"field":"p","type":"quantitative","axis":{"orient":"right","title":null}},
  "text":{"field":"label"},
  "color":{"condition":{"test":"datum.kind == 'g'","value":"#ffffff"},"value":"#131722"}
 }}
]
}
